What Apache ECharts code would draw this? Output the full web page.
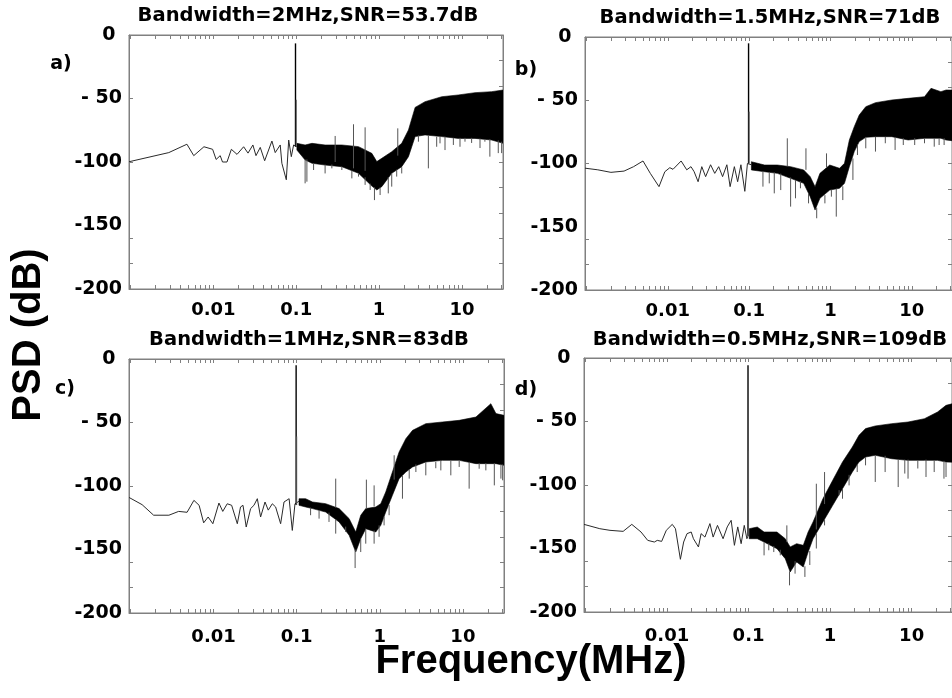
<!DOCTYPE html>
<html><head><meta charset="utf-8">
<script src="https://cdn.jsdelivr.net/npm/echarts@6/dist/echarts.min.js"></script>
<style>html,body{margin:0;padding:0;background:#fff}#c{width:952px;height:698px}</style>
</head><body><div id="c"></div>
<script>
// ---------- text / ticks ----------
const titles = ['Bandwidth=2MHz,SNR=53.7dB','Bandwidth=1.5MHz,SNR=71dB','Bandwidth=1MHz,SNR=83dB','Bandwidth=0.5MHz,SNR=109dB'];
const panelTags = ['a)','b)','c)','d)'];
const xTickValues = [0.01, 0.1, 1, 10];
const xTickLabels = ['0.01','0.1','1','10'];
const yTickValues = [0, -50, -100, -150, -200];
const yTickLabels = ['0 ', '- 50', '-100', '-150', '-200'];
const xMinorMantissa = [1,2,3,4,5,6,7,8,9];
const xDecades = [-3,-2,-1,0,1];
const yLeftTicks = [-50, -100, -160, -180];
const yRightTicks = [-20,-40,-60,-80,-100,-120,-140,-160,-180];
const X_MIN = 0.00096, X_MAX = 31.25;

// ---------- panel a ----------
const aLow = [[0.00096,-99.8],[0.0029,-92.6],[0.0048,-86],[0.0058,-95],[0.0077,-88],[0.0098,-90],[0.0108,-98],[0.0121,-95],[0.0129,-100],[0.0146,-100],[0.0165,-90],[0.0193,-94],[0.0232,-88],[0.0262,-93],[0.0300,-86.6],[0.0327,-95],[0.0368,-88.5],[0.0416,-99],[0.0509,-83.5],[0.0558,-92.6],[0.0641,-86.6],[0.0671,-101],[0.0759,-114],[0.0811,-82.7],[0.0872,-95.8],[0.093,-86.6],[0.1019,-88]];
const aBandF  = [0.1019,0.128,0.155,0.223,0.355,0.564,0.817,0.938,1.077,1.42,1.875,2.26,2.72,3.58,5.69,9.03,14.35,22.8,31.5];
const aBandHi = [-85.3,-86.6,-85.3,-86.6,-86.6,-87.9,-93.2,-99.7,-97.1,-91.9,-85.3,-74.8,-57,-52.5,-48.6,-47.2,-45.4,-44.6,-43.3];
const aBandLo = [-90.6,-98.4,-101,-102.4,-103.7,-108.9,-118.9,-122,-119.4,-108.9,-103.7,-95.8,-80,-78.7,-80,-81.4,-81.4,-82.7,-85.3];
const aSpikes = [[0.098,-88,-6.6],[0.1,-88,-51],[0.128,-98,-116.8],[0.223,-102,-109],[0.469,-107,-112.9],[0.879,-120,-130],[1.29,-112,-124.7],[1.875,-104,-109],[3.93,-79,-105],[4.95,-80,-88],[7.87,-81,-86.6],[13.07,-81,-85],[21.7,-82,-95.8],[27.4,-83,-93],[0.295,-100,-79.5],[0.491,-105,-70.3],[0.678,-107,-72.7],[1.68,-95,-73.5],
  [0.1345,-98,-115.5],[0.162,-101,-106.3],[0.269,-102,-105],[0.355,-103.7,-106.3],[0.564,-108.9,-111.5],[0.678,-112,-118],[0.78,-117,-122],[1.028,-120,-126],[1.42,-109,-119.4],[1.63,-106,-111.5],[2.98,-79,-84],[5.43,-80,-85.3],[6.24,-80,-90.6],[9.46,-81,-88],[10.87,-81,-84],[16.5,-81.5,-89],[18.9,-82,-84],[30.1,-84,-93]];

// ---------- panel b ----------
const bLow = [[0.00096,-103.7],[0.00138,-105],[0.002,-107],[0.0029,-106],[0.0038,-102.5],[0.00496,-98],[0.0061,-107.8],[0.0078,-118.3],[0.0092,-106.5],[0.0106,-103.3],[0.0116,-104.6],[0.0146,-98],[0.0171,-105],[0.0193,-102.5],[0.0211,-106.5],[0.0236,-114.4],[0.0262,-102.5],[0.0292,-110.4],[0.0336,-101],[0.0378,-107.8],[0.0423,-102.5],[0.0472,-110.4],[0.0533,-101],[0.0584,-118.3],[0.0659,-102.5],[0.0723,-114.4],[0.0793,-101],[0.0886,-122],[0.0954,-100],[0.1067,-101]];
const bBandF  = [0.1067,0.155,0.223,0.324,0.469,0.564,0.647,0.743,0.981,1.295,1.488,1.709,1.964,2.26,2.72,3.58,5.69,9.03,14.35,17.26,22.8,26.4,31.5];
const bBandHi = [-98.6,-101.2,-101.2,-102.5,-105.1,-110.4,-118.3,-107.8,-101.2,-103.8,-99.9,-81.4,-70.9,-61.7,-55.1,-51.9,-49.8,-48.5,-47.2,-40.6,-43.2,-41.9,-42];
const bBandLo = [-105.1,-106.5,-107.8,-111.7,-115.7,-126.2,-136.8,-127.5,-121,-119.6,-115.7,-102.5,-90.6,-82.7,-79.3,-78.8,-78.8,-81.4,-80.1,-80.1,-80.1,-81.4,-82];
const bSpikes = [[0.0985,-100,-5],[0.1,-100,-59],[0.204,-107,-123.6],[0.148,-106,-118.3],[0.324,-111,-134.1],[0.678,-135,-143.3],[1.18,-120,-142],[1.89,-96,-113],[3.58,-79,-90.6],[7.87,-80,-85.4],[14.35,-80,-84],[21.7,-80,-85.4],[0.295,-102,-80.1],[0.5,-105,-88],[0.895,-103,-92],
  [0.177,-107,-115.7],[0.245,-108,-121],[0.372,-113,-127.5],[0.428,-114,-119.6],[0.538,-124,-131.5],[0.855,-125,-131.5],[1.028,-121,-126.2],[1.42,-118,-128.9],[2.15,-85,-93.3],[2.72,-79,-88],[4.73,-79,-84],[6.24,-79,-89.3],[10.87,-80,-85.4],[18.9,-80,-86.7],[25,-80,-85.4]];

// ---------- panel c ----------
const cLow = [[0.00096,-109],[0.00138,-114.7],[0.0019,-123],[0.0029,-123],[0.0038,-120],[0.0048,-120.7],[0.0058,-111.3],[0.0067,-115.2],[0.0076,-129],[0.0086,-124.4],[0.0098,-129.7],[0.0116,-113.4],[0.0129,-120],[0.0146,-114],[0.0165,-115.2],[0.0193,-129.7],[0.0211,-116.5],[0.0226,-115.2],[0.0247,-132.3],[0.0279,-117.8],[0.0306,-115.2],[0.0336,-110],[0.0368,-124.4],[0.0416,-112.6],[0.0455,-119],[0.0509,-114],[0.0558,-116.5],[0.0641,-129.7],[0.0704,-112.6],[0.0811,-110],[0.0886,-135],[0.0954,-114],[0.1067,-112]];
const cBandF  = [0.1067,0.128,0.155,0.223,0.324,0.428,0.514,0.59,0.678,0.895,1.028,1.18,1.42,1.709,2.06,2.48,3.58,5.69,9.03,14.35,21.7,25.0,31.5];
const cBandHi = [-110,-110,-112.6,-113.9,-117.8,-125.7,-136.2,-123.1,-117.8,-116.5,-113.9,-104.7,-89,-73.2,-62.7,-56.2,-50.9,-49.6,-48.3,-45.7,-35.2,-43,-44.4];
const cBandLo = [-115.2,-116.5,-117.8,-120.5,-128.3,-138.8,-152,-141.5,-133.6,-136.2,-131,-120.5,-107.3,-94.2,-89,-85,-81.1,-79.8,-79.8,-82.4,-82.4,-82.4,-83.7];
const cSpikes = [[0.0985,-115,-5],[0.1,-115,-61],[0.505,-150,-164.6],[0.855,-135,-145.4],[0.295,-126,-137.5],[1.875,-92,-110],[11.9,-81,-102.1],[23.9,-82,-99.5],[7.16,-80,-91.6],[28.7,-83,-94.2],[4.72,-81,-86],[0.295,-117,-94.2],[0.69,-118,-95],[1.49,-95,-75.8],[0.855,-116,-99.5],
  [0.147,-117,-123],[0.186,-119,-125.7],[0.245,-121,-128.3],[0.389,-132,-136.2],[0.59,-141.5,-152],[0.678,-133.6,-145.4],[0.981,-131,-140],[1.127,-124,-131],[1.295,-115,-123],[2.26,-87,-94.2],[2.72,-83,-89],[3.58,-81,-91.6],[5.43,-80,-87.7],[9.03,-80,-85],[15.7,-82,-86.4],[18.9,-82,-87.7],[30.1,-83,-95.5]];

// ---------- panel d ----------
const dLow = [[0.00096,-131],[0.0015,-134.4],[0.002,-135.7],[0.0029,-136.5],[0.0037,-131],[0.0048,-137],[0.0058,-143.6],[0.0070,-144.9],[0.0076,-143.6],[0.0086,-144.4],[0.0098,-135.7],[0.0116,-131],[0.0127,-134.4],[0.0146,-158.5],[0.016,-144.9],[0.0176,-138.3],[0.0198,-137],[0.0211,-142.3],[0.0243,-148.8],[0.0262,-138.3],[0.0292,-141],[0.0336,-130.4],[0.0368,-141],[0.0416,-131.8],[0.0487,-142.3],[0.0548,-133],[0.0612,-127.8],[0.0671,-147.5],[0.0737,-133],[0.0811,-146.2],[0.0886,-131.8],[0.0954,-142.3],[0.1019,-138]];
const dBandF  = [0.1019,0.128,0.155,0.223,0.282,0.324,0.389,0.469,0.538,0.618,0.817,1.077,1.42,1.875,2.26,2.72,3.58,5.69,9.03,14.35,20.8,26.4,31.5];
const dBandHi = [-134.4,-133.1,-137,-137,-142.3,-148.8,-146.2,-147.5,-137,-129.1,-110.8,-96.3,-81.9,-70.1,-60.9,-55.6,-53.5,-51.7,-50.4,-47.8,-42.5,-37.3,-36];
const dBandLo = [-142.3,-142.3,-144.9,-150.1,-158,-168.5,-160.6,-164.6,-152.8,-142.3,-129.1,-116,-102.9,-89.8,-81.9,-78,-76.6,-79.3,-80.6,-80.6,-80.6,-81.9,-82];
const dSpikes = [[0.0985,-140,-5.8],[0.1,-140,-73],[0.318,-168,-179],[0.491,-164,-172.4],[0.155,-145,-155.4],[0.204,-148,-152.8],[1.29,-104,-108.1],[1.709,-92,-100.3],[6.84,-80,-101.6],[9.03,-80,-95],[15.0,-80,-93.7],[24.9,-81,-95],[3.58,-77,-97.6],[0.295,-145,-131.8],[0.678,-135,-99],[0.855,-115,-89.8],
  [0.177,-146,-151.4],[0.245,-151,-155.4],[0.372,-160,-169.8],[0.564,-152,-163],[0.678,-138,-150],[0.855,-127,-131.8],[1.42,-103,-110.8],[2.15,-84,-89.8],[2.72,-78,-84.5],[4.73,-77,-89.8],[8.24,-80,-91],[11.9,-80.6,-87],[18.9,-80.6,-89.8],[26.4,-82,-93.7]];

const panels = [
  {low:aLow, F:aBandF, hi:aBandHi, lo:aBandLo, spikes:aSpikes},
  {low:bLow, F:bBandF, hi:bBandHi, lo:bBandLo, spikes:bSpikes},
  {low:cLow, F:cBandF, hi:cBandHi, lo:cBandLo, spikes:cSpikes},
  {low:dLow, F:dBandF, hi:dBandHi, lo:dBandLo, spikes:dSpikes}
];

// ---------- layout ----------
const gridBoxes = [
  {left:129, top:35, width:374, height:254},
  {left:585, top:37, width:374, height:253},
  {left:129, top:359, width:375, height:254},
  {left:584, top:358, width:374, height:254}
];
const labelMargins = [12, 12, 15, 15];
const titlePos = [[308,16],[770,18],[309,340],[770,340]];
const tagPos = [[61,64],[526,70],[65,389],[526,390]];

const FRAME = '#808080';
const LABEL_FONT = 'DejaVu Sans';

const xTicksAll = [];
xDecades.forEach(e => xMinorMantissa.forEach(m => { const v = m * Math.pow(10, e); if (v >= X_MIN && v <= X_MAX) xTicksAll.push(v); }));
xTicksAll.push(20, 30);

function nearestLabel(v, vals, labels) {
  let bi = 0, bd = Infinity;
  vals.forEach((t, i) => { const d = Math.abs(Math.log10(t) - Math.log10(v)); if (d < bd) { bd = d; bi = i; } });
  return labels[bi];
}
const mkLine = () => ({show:true, onZero:false, lineStyle:{color:FRAME, width:1}});
const mkTick = (vals) => ({show:true, inside:true, length:4, customValues:vals.slice(), lineStyle:{color:FRAME, width:1}});

const grid = [], xAxis = [], yAxis = [], series = [];
gridBoxes.forEach((g, gi) => {
  grid.push(Object.assign({show:true, borderColor:FRAME, borderWidth:1, backgroundColor:'transparent'}, g));
  // bottom: line + ticks
  xAxis.push({
    type:'log', logBase:10, gridIndex:gi, position:'bottom', min:X_MIN, max:X_MAX,
    axisLine:mkLine(), splitLine:{show:false},
    axisTick:mkTick(xTicksAll), axisLabel:{show:false}
  });
  // top: line + ticks
  xAxis.push({
    type:'log', logBase:10, gridIndex:gi, position:'top', min:X_MIN, max:X_MAX,
    axisLine:mkLine(), splitLine:{show:false},
    axisTick:mkTick(xTicksAll), axisLabel:{show:false}
  });
  // bottom: labels only
  xAxis.push({
    type:'log', logBase:10, gridIndex:gi, position:'bottom', min:X_MIN, max:X_MAX,
    axisLine:{show:false, onZero:false}, axisTick:{show:false}, splitLine:{show:false},
    axisLabel:{show:true, customValues:xTickValues.slice(), margin:labelMargins[gi], color:'#000', fontFamily:LABEL_FONT, fontWeight:'bold', fontSize:18,
      formatter: v => nearestLabel(v, xTickValues, xTickLabels)}
  });
  yAxis.push({
    type:'value', gridIndex:gi, position:'left', min:-200, max:0, interval:50,
    axisLine:mkLine(), splitLine:{show:false},
    axisTick:mkTick(yLeftTicks),
    axisLabel:{show:true, margin:7, color:'#000', fontFamily:LABEL_FONT, fontWeight:'bold', fontSize:19,
      formatter: v => { const i = yTickValues.indexOf(v); return i >= 0 ? yTickLabels[i] : ''; }}
  });
  yAxis.push({
    type:'value', gridIndex:gi, position:'right', min:-200, max:0,
    axisLine:mkLine(), splitLine:{show:false},
    axisTick:mkTick(yRightTicks),
    axisLabel:{show:false}
  });

  const p = panels[gi];
  const xi = gi * 3, yi = gi * 2;
  series.push({
    type:'custom', xAxisIndex:xi, yAxisIndex:yi, clip:true, silent:true, z:2,
    data: p.F.map((f, i) => [f, p.hi[i], p.lo[i]]),
    encode:{x:0, y:[1,2]},
    renderItem: (params, api) => {
      if (params.dataIndex !== 0) return null;
      const pts = [];
      for (let i = 0; i < p.F.length; i++) pts.push(api.coord([p.F[i], p.hi[i]]));
      for (let i = p.F.length - 1; i >= 0; i--) pts.push(api.coord([p.F[i], p.lo[i]]));
      return {type:'polygon', shape:{points:pts}, style:{fill:'#000', stroke:'#000', lineWidth:0.6}};
    }
  });
  series.push({
    type:'line', xAxisIndex:xi, yAxisIndex:yi, data:p.low, symbol:'none', showSymbol:false, silent:true, z:3,
    lineStyle:{color:'#2a2a2a', width:1}
  });
  series.push({
    type:'custom', xAxisIndex:xi, yAxisIndex:yi, clip:true, silent:true, z:4,
    data: p.spikes, encode:{x:0, y:[1,2]},
    renderItem: (params, api) => {
      const a = api.coord([api.value(0), api.value(1)]);
      const b = api.coord([api.value(0), api.value(2)]);
      const peak = api.value(2) > -30;
      return {type:'line', shape:{x1:a[0], y1:a[1], x2:b[0], y2:b[1]},
        style:{stroke: peak ? '#000' : '#555', lineWidth: peak ? 1.4 : 1}};
    }
  });
});

const graphic = [];
titles.forEach((t, i) => graphic.push({type:'text', x:titlePos[i][0], y:titlePos[i][1], silent:true,
  style:{text:t, fill:'#000', font:'bold 19.5px "DejaVu Sans"', align:'center', verticalAlign:'middle'}}));
panelTags.forEach((t, i) => graphic.push({type:'text', x:tagPos[i][0], y:tagPos[i][1], silent:true,
  style:{text:t, fill:'#000', font:'bold 19px "DejaVu Sans"', align:'center', verticalAlign:'middle'}}));
graphic.push({type:'text', x:29, y:335, rotation:Math.PI/2, silent:true,
  style:{text:'PSD (dB)', fill:'#000', font:'bold 40px "Liberation Sans"', align:'center', verticalAlign:'middle'}});
graphic.push({type:'text', x:531, y:662, silent:true,
  style:{text:'Frequency(MHz)', fill:'#000', font:'bold 40px "Liberation Sans"', align:'center', verticalAlign:'middle'}});

const chart = echarts.init(document.getElementById('c'), null, {renderer:'canvas'});
chart.setOption({animation:false, backgroundColor:'#fff', grid, xAxis, yAxis, series, graphic});
</script></body></html>
